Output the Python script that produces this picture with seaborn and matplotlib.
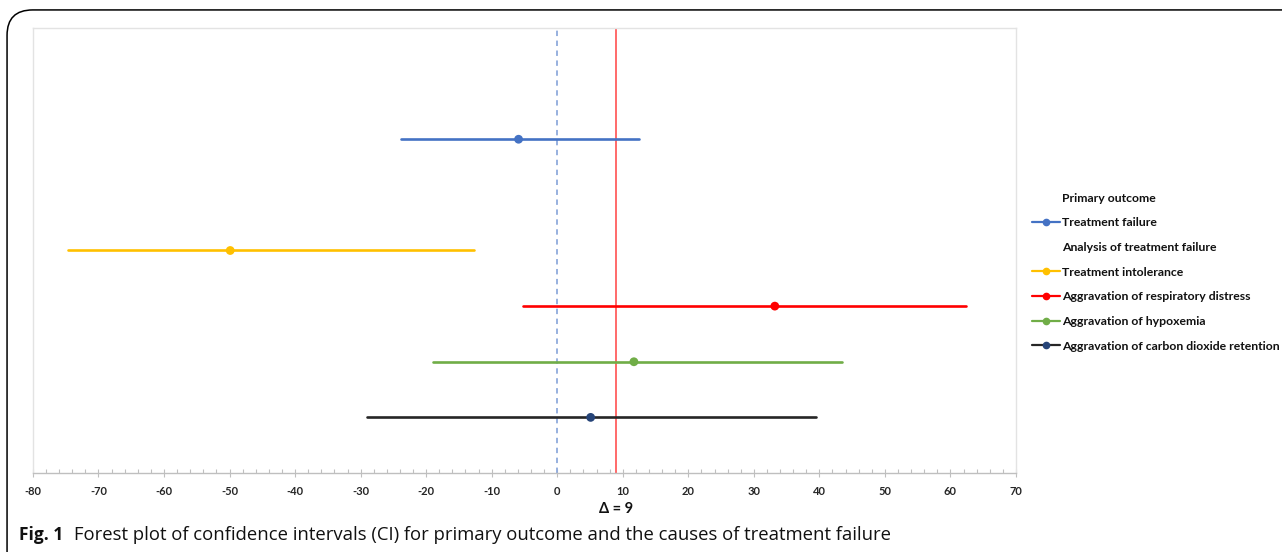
import pandas as pd
import matplotlib.pyplot as plt
import seaborn as sns
from matplotlib.lines import Line2D
from matplotlib.patches import FancyBboxPatch

sns.set_theme(style="white")
plt.rcParams['font.family'] = ['Lato', 'DejaVu Sans']
plt.rcParams['axes.unicode_minus'] = False

# Data (difference, %)
outcomes = ['Treatment failure', 'Treatment intolerance',
            'Aggravation of respiratory distress', 'Aggravation of hypoxemia',
            'Aggravation of carbon dioxide retention']
estimate = [-5.9, -49.9, 33.2, 11.7, 5.1]
ci_low = [-23.9, -74.6, -5.2, -18.9, -29.1]
ci_high = [12.5, -12.7, 62.3, 43.5, 39.5]
delta = 9
x_ticks = list(range(-80, 71, 10))

line_colors = ['#4472C4', '#FFC000', '#FF0000', '#70AD47', '#262626']
marker_colors = ['#4472C4', '#FFC000', '#FF0000', '#70AD47', '#264478']
row_y = [6, 4, 3, 2, 1]

est_df = pd.DataFrame({'outcome': outcomes, 'x': estimate, 'y': row_y})
ci_df = pd.DataFrame({
    'outcome': outcomes * 2,
    'x': ci_low + ci_high,
    'y': row_y * 2,
})

fig = plt.figure(figsize=(12.82, 5.52), dpi=100)
ax = fig.add_axes([0.0257, 0.1431, 0.7668, 0.8062])

sns.lineplot(data=ci_df, x='x', y='y', hue='outcome', units='outcome',
             estimator=None, sort=False, palette=dict(zip(outcomes, line_colors)),
             linewidth=1.9, legend=False, ax=ax)
sns.scatterplot(data=est_df, x='x', y='y', hue='outcome',
                palette=dict(zip(outcomes, marker_colors)), s=40,
                edgecolor='none', legend=False, zorder=5, ax=ax)

ax.axvline(0, color='#8FAADC', lw=1.3, ls=(0, (3, 2.5)), zorder=1)
ax.axvline(delta, color='#FF5050', lw=1.2, zorder=1)

ax.set_xlim(-80, 70)
ax.set_ylim(0, 8)
ax.set_yticks([])
ax.set_xticks(x_ticks)
ax.set_xticklabels([str(t) for t in x_ticks], fontsize=8, fontweight='bold',
                   color='#262626')
ax.set_xticks(range(-80, 71, 2), minor=True)
ax.tick_params(axis='x', which='major', direction='inout', length=6, width=0.8,
               color='#BFBFBF', pad=6, bottom=True)
ax.tick_params(axis='x', which='minor', direction='in', length=3, width=0.8,
               color='#BFBFBF', bottom=True)
ax.set_xlabel('')
ax.set_ylabel('')
for side in ['top', 'left', 'right']:
    ax.spines[side].set_color('#E3E3E3')
    ax.spines[side].set_linewidth(1.0)
ax.spines['bottom'].set_color('#BFBFBF')
ax.spines['bottom'].set_linewidth(1.0)

ax.text(delta, -0.64, '\u0394 = 9', ha='center', va='center', fontsize=10.5,
        fontweight='bold', color='#111111')

# Legend with group headers
handles = [Line2D([], [], color='none')]
labels = ['Primary outcome']
handles.append(Line2D([], [], color=line_colors[0], marker='o', ms=4.5,
                      mfc=marker_colors[0], mec=marker_colors[0], lw=1.6))
labels.append(outcomes[0])
handles.append(Line2D([], [], color='none'))
labels.append('Analysis of treatment failure')
for i in range(1, len(outcomes)):
    handles.append(Line2D([], [], color=line_colors[i], marker='o', ms=4.5,
                          mfc=marker_colors[i], mec=marker_colors[i], lw=1.6))
    labels.append(outcomes[i])
leg = fig.legend(handles, labels, loc='upper left', bbox_to_anchor=(0.8015, 0.66),
                 frameon=False, fontsize=8.8, handlelength=2.25, handletextpad=0.15,
                 labelspacing=1.12, borderaxespad=0)
for t in leg.get_texts():
    t.set_fontweight('bold')
    t.set_color('#111111')

# Rounded outer border
border = FancyBboxPatch((0.0055, -0.1), 1.2, 1.082, boxstyle='round,pad=0,rounding_size=0.02',
                        transform=fig.transFigure, fill=False, edgecolor='black',
                        lw=1.1, clip_on=False, mutation_aspect=2.3)
fig.patches.append(border)

fig.text(0.0148, 0.031, 'Fig. 1', fontsize=12.5, fontweight='bold', family='Open Sans',
         va='center', color='#111111')
fig.text(0.0575, 0.031, 'Forest plot of confidence intervals (CI) for primary outcome and the causes of treatment failure',
         fontsize=13.3, family='Open Sans', va='center', color='#111111')

fig.savefig('out.png', dpi=100)
